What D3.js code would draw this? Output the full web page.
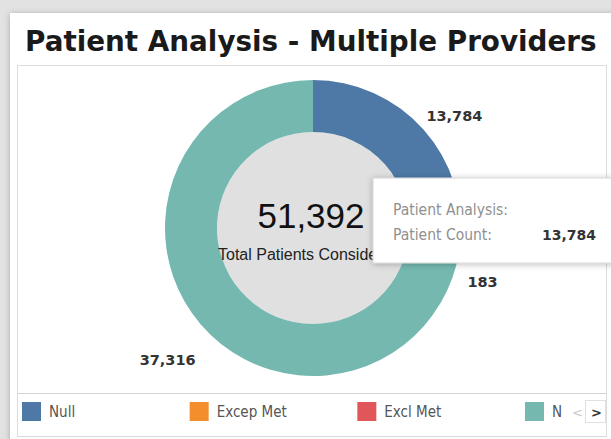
<!DOCTYPE html>
<html>
<head>
<meta charset="utf-8">
<script src="https://cdn.jsdelivr.net/npm/d3@7"></script>
<style>
  body { margin: 0; background: #e4e4e4; }
  svg { display: block; }
</style>
</head>
<body>
<div id="chart"></div>
<script>
// chart values
const categories = ["Null", "Excep Met", "Excl Met", "Not Met"];
const counts = [13784, 109, 183, 37316];
const colors = ["#4e79a7", "#f28e2b", "#e15759", "#74b8b0"];
// legend text as it is shown (last one is cut off by the legend width)
const legendLabels = ["Null", "Excep Met", "Excl Met", "N"];
const titleText = "Patient Analysis - Multiple Providers";
const centerCaption = "Total Patients Considered";
const tooltipRows = ["Patient Analysis:", "Patient Count:"];
const tooltipValue = 13784;

const width = 611, height = 439;
const cx = 313, cy = 228;
const outerR = 148, innerR = 96;
const fmt = d3.format(",");

let svg = d3.select("#chart").append("svg")
    .attr("width", width)
    .attr("height", height);

let defs = svg.append("defs");
let shadow = defs.append("filter").attr("id", "shadow")
    .attr("x", "-10%").attr("y", "-10%").attr("width", "130%").attr("height", "130%");
shadow.append("feDropShadow")
    .attr("dx", 0).attr("dy", 1).attr("stdDeviation", 3)
    .attr("flood-color", "#000").attr("flood-opacity", 0.25);

// background + card
svg.append("rect").attr("width", width).attr("height", height).attr("fill", "#e2e2e2");
svg.append("rect")
    .attr("x", 10).attr("y", 13)
    .attr("width", 620).attr("height", 440)
    .attr("fill", "#fff")
    .attr("filter", "url(#shadow)");

svg.append("text")
    .attr("x", 25).attr("y", 51)
    .style("font-family", "DejaVu Sans")
    .style("font-weight", "bold")
    .style("font-size", "27.8px")
    .attr("fill", "#1a1a1a")
    .text(titleText);

// inner panel
svg.append("rect")
    .attr("x", 17.5).attr("y", 65.5)
    .attr("width", 589).attr("height", 371)
    .attr("fill", "#fff")
    .attr("stroke", "#dcdcdc");

// donut
let total = d3.sum(counts);
let pie = d3.pie().sort(null).value(d => d.value);
let arcs = pie(categories.map((c, i) => ({ name: c, value: counts[i], color: colors[i] })));

let arc = d3.arc().innerRadius(innerR).outerRadius(outerR);

let g = svg.append("g").attr("transform", "translate(" + cx + "," + cy + ")");

g.append("circle").attr("r", innerR).attr("fill", "#e0e0e0");

g.selectAll("path.slice")
    .data(arcs)
    .enter()
    .append("path")
    .attr("class", "slice")
    .attr("d", arc)
    .attr("fill", d => d.data.color);

// slice labels, stacked on each side so small slices don't collide
let labelR = 168;
let minLabelAngle = Math.PI / 180; // slices under 1 degree keep their slot but get no label
let lastY = { left: -Infinity, right: -Infinity };
let labels = arcs.map(d => {
  let a = (d.startAngle + d.endAngle) / 2;
  let side = Math.sin(a) >= 0 ? "right" : "left";
  let x = labelR * Math.sin(a);
  let y = -labelR * Math.cos(a) + (side === "left" ? 22 : 0);
  if (y < lastY[side] + 34) y = lastY[side] + 34;
  lastY[side] = y;
  return { d: d, x: x, y: y, side: side };
}).filter(l => l.d.endAngle - l.d.startAngle >= minLabelAngle);

g.selectAll("text.lbl")
    .data(labels)
    .enter()
    .append("text")
    .attr("class", "lbl")
    .attr("x", l => l.side === "right" ? l.x - 12 : l.x + 10)
    .attr("y", l => l.y)
    .attr("dy", "0.35em")
    .attr("text-anchor", l => l.side === "right" ? "start" : "end")
    .style("font-family", "DejaVu Sans")
    .style("font-weight", "bold")
    .style("font-size", "14.5px")
    .attr("fill", "#333")
    .text(l => fmt(l.d.data.value));

// centre text
g.append("text")
    .attr("x", -2).attr("y", 0)
    .attr("text-anchor", "middle")
    .style("font-family", "Liberation Sans, Arial")
    .style("font-size", "35px")
    .attr("fill", "#111")
    .text(fmt(total));

g.append("text")
    .attr("x", -95).attr("y", 32)
    .style("font-family", "Liberation Sans, Arial")
    .style("font-size", "16px")
    .attr("fill", "#222")
    .text(centerCaption);

// tooltip
let tip = svg.append("g").attr("transform", "translate(373,178)");
tip.append("rect")
    .attr("width", 250).attr("height", 85)
    .attr("fill", "#fff")
    .attr("stroke", "#d6d6d6")
    .attr("filter", "url(#shadow)");
tip.selectAll("text.row")
    .data(tooltipRows)
    .enter()
    .append("text")
    .attr("class", "row")
    .attr("x", 20)
    .attr("y", (d, i) => 37 + i * 25)
    .style("font-family", "DejaVu Sans Condensed, DejaVu Sans")
    .style("font-size", "15.5px")
    .attr("fill", "#8f8f8f")
    .text(d => d);
tip.append("text")
    .attr("x", 169).attr("y", 62)
    .style("font-family", "DejaVu Sans")
    .style("font-weight", "bold")
    .style("font-size", "14px")
    .attr("fill", "#333")
    .text(fmt(tooltipValue));

// legend
svg.append("line")
    .attr("x1", 18).attr("x2", 606)
    .attr("y1", 393.5).attr("y2", 393.5)
    .attr("stroke", "#d4d4d4");

let legendX = d3.scalePoint()
    .domain(legendLabels)
    .range([22, 525]);

let item = svg.selectAll("g.item")
    .data(legendLabels)
    .enter()
    .append("g")
    .attr("class", "item")
    .attr("transform", d => "translate(" + legendX(d) + ",402)");
item.append("rect")
    .attr("width", 19).attr("height", 19)
    .attr("fill", (d, i) => colors[i]);
item.append("text")
    .attr("x", 27).attr("y", 10)
    .attr("dy", "0.35em")
    .style("font-family", "DejaVu Sans Condensed, DejaVu Sans")
    .style("font-size", "15px")
    .attr("fill", "#555")
    .text(d => d);

// legend paging arrows
svg.append("text")
    .attr("x", 572).attr("y", 412).attr("dy", "0.35em")
    .style("font-family", "DejaVu Sans")
    .style("font-size", "13px")
    .attr("fill", "#c8c8c8")
    .text("<");
svg.append("rect")
    .attr("x", 585.5).attr("y", 400.5)
    .attr("width", 20).attr("height", 22)
    .attr("fill", "#fff")
    .attr("stroke", "#e0e0e0");
svg.append("text")
    .attr("x", 591).attr("y", 412).attr("dy", "0.35em")
    .style("font-family", "DejaVu Sans")
    .style("font-weight", "bold")
    .style("font-size", "13px")
    .attr("fill", "#333")
    .text(">");
</script>
</body>
</html>
